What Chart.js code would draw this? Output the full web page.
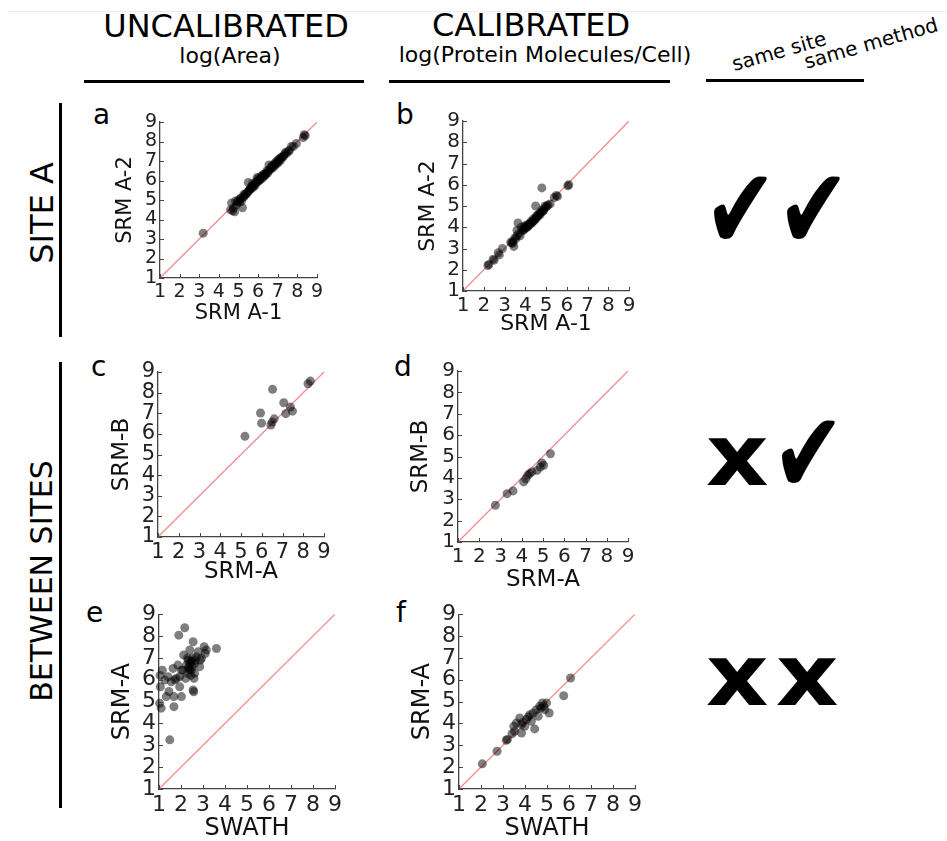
<!DOCTYPE html>
<html>
<head>
<meta charset="utf-8">
<script src="https://cdn.jsdelivr.net/npm/chart.js@4"></script>
<style>
  body { margin: 0; background: #fff; font-family: "DejaVu Sans", sans-serif; color: #000; }
  #fig { position: relative; width: 947px; height: 841px; overflow: hidden; }
  .t { position: absolute; white-space: nowrap; line-height: 1; }
  .c { transform: translateX(-50%); }
  .rot { transform: translate(-50%, -50%) rotate(-90deg); }
  .tilt { transform: translate(-50%, -50%) rotate(-16deg); font-size: 20px; }
  .hl { position: absolute; background: #000; }
  .mark { position: absolute; line-height: 1; color: #000; transform-origin: 50% 50%; }
  .chk { font-size: 82px; transform: scale(1.06, 1.4); }
  .ex { font-size: 84px; font-weight: bold; transform: scale(1.16, 1.02); }
  canvas { position: absolute; }
</style>
</head>
<body>
<div id="fig">
  <div class="hl" style="left:8px;right:0;top:11px;height:1px;background:#ececec"></div>

  <div class="t c" style="left:226px;top:10px;font-size:32px">UNCALIBRATED</div>
  <div class="t c" style="left:230px;top:45px;font-size:22px">log(Area)</div>
  <div class="t c" style="left:531px;top:9px;font-size:32px">CALIBRATED</div>
  <div class="t c" style="left:545px;top:44px;font-size:22px">log(Protein Molecules/Cell)</div>
  <div class="t tilt" style="left:779px;top:51px">same site</div>
  <div class="t tilt" style="left:871px;top:43px">same method</div>

  <div class="hl" style="left:84px;width:280px;top:80px;height:3px"></div>
  <div class="hl" style="left:389px;width:281px;top:80px;height:3px"></div>
  <div class="hl" style="left:706px;width:158px;top:79px;height:3px"></div>

  <div class="t rot" style="left:42px;top:213px;font-size:32px">SITE A</div>
  <div class="t rot" style="left:42px;top:581px;font-size:30px">BETWEEN SITES</div>
  <div class="hl" style="left:59px;width:3px;top:103px;height:234px"></div>
  <div class="hl" style="left:59px;width:3px;top:362px;height:446px"></div>

  <div class="t" style="left:93px;top:101px;font-size:28px">a</div>
  <div class="t" style="left:396px;top:101px;font-size:28px">b</div>
  <div class="t" style="left:91px;top:353px;font-size:28px">c</div>
  <div class="t" style="left:394px;top:353px;font-size:28px">d</div>
  <div class="t" style="left:86px;top:599px;font-size:28px">e</div>
  <div class="t" style="left:396px;top:599px;font-size:28px">f</div>

  <div class="mark chk" style="left:706px;top:169px">✔</div>
  <div class="mark chk" style="left:779px;top:169px">✔</div>
  <div class="mark ex" style="left:710px;top:413px">x</div>
  <div class="mark chk" style="left:774px;top:413px">✔</div>
  <div class="mark ex" style="left:710px;top:633px">x</div>
  <div class="mark ex" style="left:780px;top:633px">x</div>
</div>

<script>
const ticks = [1, 2, 3, 4, 5, 6, 7, 8, 9];
const diagonal = [1, 9];

// a: SRM A-1 vs SRM A-2, log(Area)
const aX = [3.2, 4.6, 4.65, 4.7, 4.75, 4.8, 4.85, 4.9, 5.0, 5.05, 5.1, 5.15, 5.2, 5.25, 5.3, 5.35, 5.4, 5.5, 5.5, 5.55,
  5.6, 5.65, 5.7, 5.75, 5.8, 5.85, 5.9, 5.95, 6.0, 6.0, 6.05, 6.1, 6.15, 6.2, 6.25, 6.3, 6.35, 6.4, 6.45, 6.5,
  6.55, 6.6, 6.65, 6.7, 6.75, 6.8, 6.85, 6.9, 6.95, 7.0, 7.05, 7.1, 7.15, 7.2, 7.3, 7.35, 7.45, 7.55, 7.7, 7.8,
  7.95, 8.3, 8.35, 8.4,
  4.95, 5.12, 5.28, 5.45, 5.62, 5.78, 5.92, 6.08, 6.22, 6.38, 6.52, 6.68, 6.82, 6.98, 7.12, 7.25, 7.4, 7.6, 5.72, 6.3];
const aY = [3.3, 4.5, 4.85, 4.45, 4.6, 4.4, 4.95, 4.75, 5.0, 4.9, 5.05, 4.95, 4.6, 5.15, 5.2, 5.3, 5.3, 5.9, 5.45, 5.5,
  5.55, 5.6, 5.7, 5.65, 5.8, 5.75, 5.9, 6.15, 5.95, 6.1, 6.0, 6.05, 6.2, 6.1, 6.3, 6.2, 6.35, 6.3, 6.5, 6.4,
  6.8, 6.55, 6.6, 6.75, 6.65, 6.8, 6.75, 6.95, 6.85, 7.05, 6.95, 7.1, 7.05, 7.2, 7.25, 7.35, 7.4, 7.5, 7.75, 7.75,
  7.9, 8.2, 8.35, 8.3,
  4.9, 5.1, 5.3, 5.4, 5.65, 5.75, 5.95, 6.05, 6.25, 6.35, 6.5, 6.7, 6.85, 6.95, 7.15, 7.2, 7.45, 7.55, 5.85, 6.25];

// b: SRM A-1 vs SRM A-2, molecules/cell
const bX = [2.2, 2.25, 2.45, 2.5, 2.7, 2.75, 2.9, 3.3, 3.35, 3.4, 3.45, 3.5, 3.55, 3.6, 3.65, 3.6, 3.7, 3.8, 3.85, 3.9,
  3.95, 4.0, 4.05, 4.1, 4.15, 4.2, 4.25, 4.3, 4.35, 4.4, 4.45, 4.5, 4.55, 4.6, 4.65, 4.7, 4.75, 4.8, 4.8, 4.85,
  4.9, 4.95, 4.5, 5.0, 5.1, 5.2, 5.4, 5.5, 5.55, 6.05, 6.1,
  3.92, 4.02, 4.12, 4.22, 4.32, 4.42, 4.52, 4.62, 4.72, 4.88, 5.05, 3.4, 3.75];
const bY = [2.2, 2.25, 2.5, 2.45, 2.8, 2.7, 3.0, 3.3, 3.25, 3.35, 3.1, 3.5, 3.45, 3.6, 4.2, 3.85, 3.7, 4.0, 3.85, 3.9,
  4.05, 3.95, 4.1, 4.0, 4.15, 4.1, 4.2, 4.3, 4.25, 4.4, 4.35, 4.45, 4.55, 4.5, 4.6, 4.65, 4.7, 4.8, 5.85, 4.75,
  4.85, 5.0, 5.0, 4.95, 5.05, 5.1, 5.4, 5.5, 5.45, 5.95, 6.0,
  3.85, 4.0, 4.05, 4.15, 4.2, 4.3, 4.4, 4.55, 4.6, 4.8, 5.0, 3.25, 3.6];

// c: SRM-A vs SRM-B, log(Area)
const cX = [5.19, 5.94, 5.99, 6.52, 6.44, 6.5, 6.6, 7.06, 7.16, 7.38, 7.48, 8.23, 8.34];
const cY = [5.88, 7.01, 6.52, 8.16, 6.43, 6.57, 6.73, 7.51, 6.98, 7.3, 7.1, 8.43, 8.56];

// d: SRM-A vs SRM-B, molecules/cell
const dX = [2.76, 3.31, 3.59, 4.09, 4.2, 4.28, 4.37, 4.48, 4.72, 4.87, 4.95, 5.03, 5.35];
const dY = [2.72, 3.26, 3.39, 3.81, 3.96, 4.12, 4.2, 4.28, 4.35, 4.51, 4.7, 4.59, 5.13];

// e: SWATH vs SRM-A, log(Area)
const eX = [1.03, 1.1, 1.06, 1.15, 1.05, 1.26, 1.33, 1.45, 1.49, 1.41, 1.56, 1.64, 1.68, 1.68, 1.72, 1.79, 1.86, 1.9, 1.94, 1.94,
  2.02, 2.02, 2.09, 2.12, 2.17, 2.21, 2.24, 2.3, 2.32, 2.35, 2.37, 2.4, 2.4, 2.42, 2.45, 2.47, 2.49, 2.5, 2.52, 2.55,
  2.55, 2.58, 2.59, 2.62, 2.62, 2.65, 2.7, 2.78, 2.85, 2.88, 2.93, 3.05, 3.1, 3.15, 3.61, 2.3, 2.45];
const eY = [4.92, 4.7, 5.68, 6.44, 6.2, 5.99, 5.23, 5.46, 3.25, 6.14, 5.91, 6.52, 4.77, 5.23, 6.0, 6.06, 6.67, 8.04, 6.14, 5.68,
  5.23, 6.44, 6.44, 7.13, 8.38, 6.06, 6.67, 6.3, 6.9, 6.55, 6.6, 7.36, 6.44, 6.75, 6.85, 6.44, 6.82, 6.6, 7.0, 7.74,
  5.53, 5.45, 6.06, 6.74, 6.3, 6.9, 7.05, 7.28, 6.6, 6.9, 6.98, 7.51, 7.2, 7.36, 7.43, 7.0, 6.2];

// f: SWATH vs SRM-A, molecules/cell
const fX = [2.06, 2.73, 3.15, 3.2, 3.41, 3.49, 3.53, 3.61, 3.76, 3.84, 3.84, 3.9, 3.99, 4.07, 4.15, 4.22, 4.29, 4.37, 4.44, 4.52,
  4.6, 4.67, 4.72, 4.79, 4.85, 4.9, 4.98, 5.1, 5.76, 6.07];
const fY = [2.15, 2.73, 3.23, 3.27, 3.53, 3.87, 3.64, 4.02, 4.25, 3.56, 3.95, 4.05, 3.87, 4.18, 4.3, 4.4, 4.1, 4.48, 3.75, 4.63,
  4.33, 4.79, 4.7, 4.94, 4.79, 4.63, 4.94, 4.48, 5.27, 6.08];

const panels = [
  { x: aX, y: aY, xLabel: 'SRM A-1', yLabel: 'SRM A-2', L: 160, T: 122, R: 317, B: 278, tick: 19, title: 21, gx: 35, gy: 34 },
  { x: bX, y: bY, xLabel: 'SRM A-1', yLabel: 'SRM A-2', L: 463, T: 121, R: 629, B: 291, tick: 20, title: 22, gx: 33, gy: 35 },
  { x: cX, y: cY, xLabel: 'SRM-A', yLabel: 'SRM-B', L: 158, T: 372, R: 324, B: 537, tick: 21, title: 23, gx: 35, gy: 36 },
  { x: dX, y: dY, xLabel: 'SRM-A', yLabel: 'SRM-B', L: 458, T: 371, R: 628, B: 542, tick: 20, title: 23, gx: 38, gy: 37 },
  { x: eX, y: eY, xLabel: 'SWATH', yLabel: 'SRM-A', L: 159, T: 614, R: 335, B: 789, tick: 22, title: 24, gx: 40, gy: 37 },
  { x: fX, y: fY, xLabel: 'SWATH', yLabel: 'SRM-A', L: 459, T: 614, R: 635, B: 789, tick: 22, title: 24, gx: 40, gy: 37 }
];

// short inward tick marks, like the matplotlib axes
const inTicks = {
  id: 'inTicks',
  afterDraw(chart) {
    const { ctx, scales: { x, y } } = chart;
    ctx.save();
    ctx.strokeStyle = '#444';
    ctx.lineWidth = 1;
    x.ticks.forEach(t => {
      const px = Math.round(x.getPixelForValue(t.value)) + 0.5;
      ctx.beginPath(); ctx.moveTo(px, y.bottom); ctx.lineTo(px, y.bottom - 4); ctx.stroke();
    });
    y.ticks.forEach(t => {
      const py = Math.round(y.getPixelForValue(t.value)) + 0.5;
      ctx.beginPath(); ctx.moveTo(x.left, py); ctx.lineTo(x.left + 4, py); ctx.stroke();
    });
    ctx.restore();
  }
};

const fig = document.getElementById('fig');
const padT = 16, padR = 16;

panels.forEach(p => {
  const half = Math.round(p.title * 0.6);
  const wy = p.gy + half, hx = p.gx + half;
  const c = document.createElement('canvas');
  c.width = wy + (p.R - p.L) + padR;
  c.height = padT + (p.B - p.T) + hx;
  c.style.left = (p.L - wy) + 'px';
  c.style.top = (p.T - padT) + 'px';
  fig.appendChild(c);

  const axis = (label, fit) => ({
    type: 'linear',
    min: 1,
    max: 9,
    afterFit: fit,
    afterBuildTicks: s => { s.ticks = ticks.map(v => ({ value: v })); },
    ticks: { autoSkip: false, maxRotation: 0, padding: 3, color: '#222',
      font: { family: 'DejaVu Sans', size: p.tick } },
    grid: { display: false, drawTicks: false },
    border: { color: '#444', width: 1.3 },
    title: { display: true, text: label, padding: 0, color: '#111',
      font: { family: 'DejaVu Sans', size: p.title } }
  });

  new Chart(c, {
    type: 'scatter',
    data: {
      datasets: [
        {
          data: p.x.map((v, i) => ({ x: v, y: p.y[i] })),
          pointBackgroundColor: 'rgba(0,0,0,0.5)',
          pointBorderWidth: 0,
          pointRadius: 4.5,
          clip: false,
          order: 0
        },
        {
          type: 'line',
          data: diagonal.map(v => ({ x: v, y: v })),
          borderColor: '#f58c8c',
          borderWidth: 1.3,
          pointRadius: 0,
          fill: false,
          order: 1
        }
      ]
    },
    options: {
      responsive: false,
      animation: false,
      events: [],
      layout: { padding: { top: padT, right: padR, left: 0, bottom: 0 } },
      plugins: { legend: { display: false }, tooltip: { enabled: false } },
      scales: {
        x: axis(p.xLabel, s => { s.height = hx; }),
        y: axis(p.yLabel, s => { s.width = wy; })
      }
    },
    plugins: [inTicks]
  });
});
</script>
</body>
</html>
